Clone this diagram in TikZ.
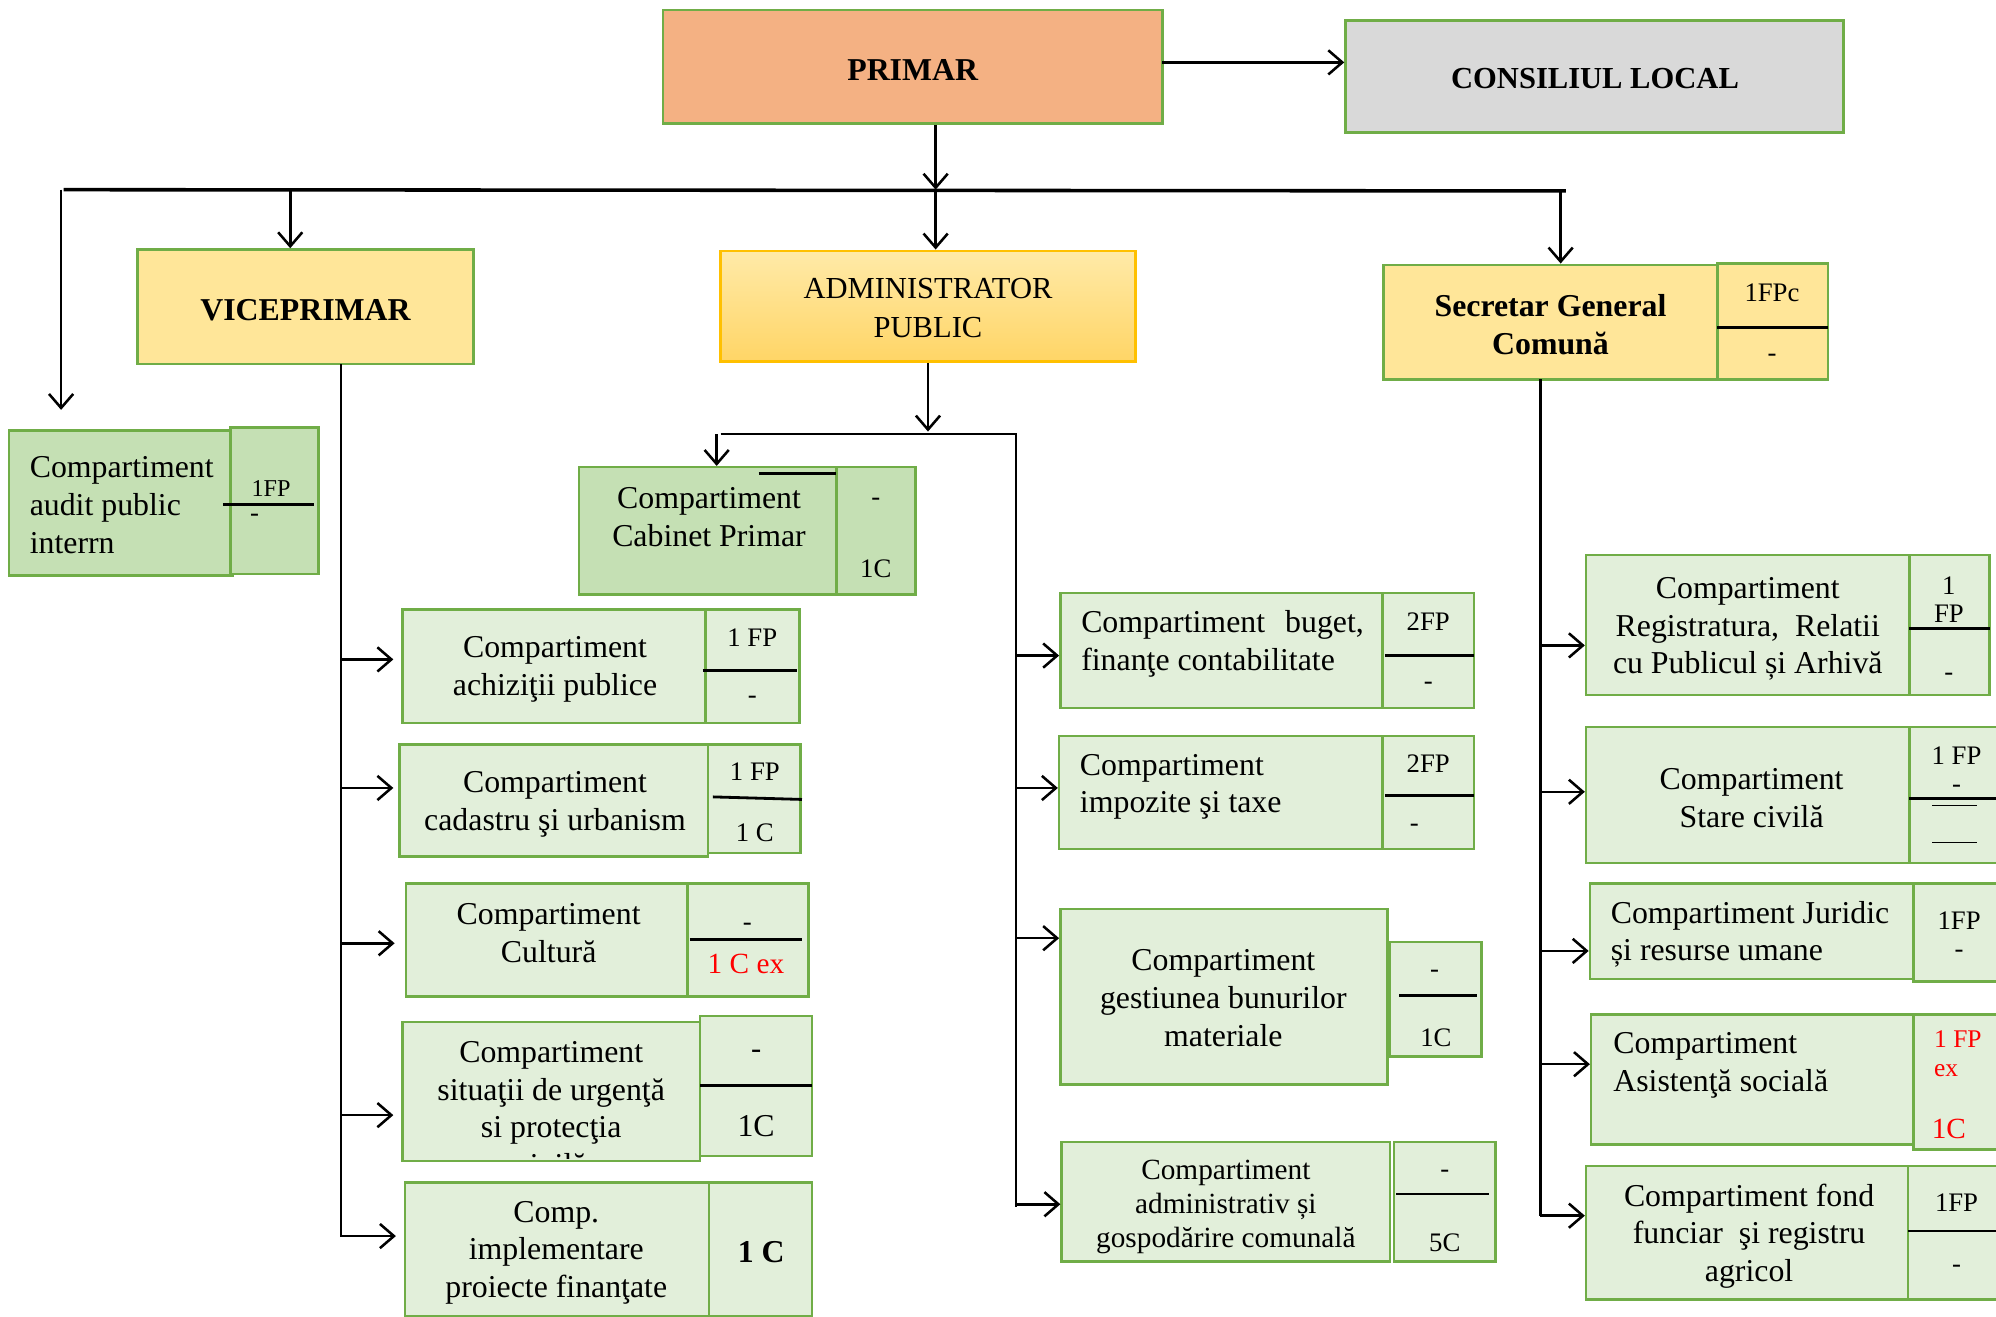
\documentclass[tikz,border=0pt]{standalone}
\usepackage{fontspec}
\setmainfont{Liberation Serif}
\usetikzlibrary{arrows.meta,fit}
\definecolor{bgreen}{HTML}{70AD47}
\definecolor{lgreen}{HTML}{E2EFDA}
\definecolor{mgreen}{HTML}{C5E0B4}
\definecolor{lyellow}{HTML}{FFE699}
\definecolor{orng}{HTML}{F4B183}
\definecolor{lgrey}{HTML}{D9D9D9}
\definecolor{goldb}{HTML}{FFC000}
\definecolor{admtop}{HTML}{FFEAA8}
\definecolor{admbot}{HTML}{FFD566}
\definecolor{redt}{HTML}{FF0000}
\newcommand\mybox[6]{\node[#1,fit={(#2,#3)(#4,#5)},inner sep=0pt] (#6) {};}
\begin{document}
\begin{tikzpicture}[x=0.5pt,y=-0.5pt,
  bx/.style={draw=bgreen,line width=1pt,fill=lgreen},
  bxm/.style={bx,fill=mgreen},
  bxy/.style={bx,fill=lyellow},
  txt/.style={font=\fontsize{12.5}{14.8}\selectfont,align=center,inner sep=0pt},
  txl/.style={txt,align=left,anchor=west},
  tb/.style={font=\bfseries\fontsize{12.5}{14.8}\selectfont,align=center,inner sep=0pt},
  num/.style={font=\fontsize{10.5}{12}\selectfont,inner sep=0pt},
  numb/.style={font=\fontsize{12}{14}\selectfont,inner sep=0pt},
  red/.style={text=redt},
  div/.style={line width=1.1pt},
  arr/.style={-{Straight Barb[length=5.5pt,width=9.5pt]},line width=1pt},
  ln/.style={line width=1pt},
  bus/.style={line width=1.4pt}]
\useasboundingbox[fill=white] (0,0) rectangle (1568,1034);

% ---------- top level ----------
\mybox{bx,fill=orng}{521}{8}{913}{97}{primar}
\node[tb] (primar-t) at (717,55) {PRIMAR};
\mybox{bx,fill=lgrey}{1057}{16}{1448}{104}{cons}
\node[tb,font=\bfseries\fontsize{12}{14}\selectfont] (cons-t) at (1253,62) {CONSILIUL LOCAL};

\mybox{bxy}{108}{196}{372}{286}{vice}
\node[tb] (vice-t) at (240,244) {VICEPRIMAR};

\mybox{bx,draw=goldb,top color=admtop,bottom color=admbot}{566}{197}{892}{284}{admin}
\node[txt,font=\fontsize{12}{15.5}\selectfont] (admin-t) at (729,242) {ADMINISTRATOR\\PUBLIC};

\mybox{bxy}{1087}{208}{1349}{298}{sec}
\mybox{bxy}{1349}{207}{1436}{298}{secs}
\draw[div] (1349,257) -- (1436,257);
\node[tb] (sec-t) at (1218,255) {Secretar General\\Comună};
\node[num] (secs-a) at (1392,230) {1FPc};
\node[num] (secs-b) at (1392,281) {-};

% ---------- audit ----------
\mybox{bxm}{7}{338}{183}{452}{audit}
\mybox{bxm}{181}{336}{250}{451}{audits}
\draw[div] (175,396) -- (247,396);
\node[txl,font=\fontsize{12.5}{15}\selectfont] (audit-t) at (23,397) {Compartiment\\audit public\\interrn};
\node[num,font=\fontsize{9.5}{11}\selectfont] (audits-a) at (213,384) {1FP};
\node[num] (audits-b) at (200,407) {-};

% ---------- cabinet ----------
\mybox{bxm}{455}{367}{657}{467}{cab}
\mybox{bxm}{657}{367}{719}{467}{cabs}
\draw[div] (596,372) -- (657,372);
\node[txt] (cab-t) at (557,406) {Compartiment\\Cabinet Primar};
\node[num] (cabs-a) at (688,394) {-};
\node[num] (cabs-b) at (688,447) {1C};

% ---------- vice column ----------
\mybox{bx}{316}{479}{554}{568}{achiz}
\mybox{bx}{554}{479}{628}{568}{achizs}
\draw[div] (552,527) -- (626,527);
\node[txt] (achiz-t) at (436,526) {Compartiment\\achiziţii publice};
\node[num] (achizs-a) at (591,501) {1 FP};
\node[num] (achizs-b) at (591,550) {-};

\mybox{bx}{314}{585}{556}{673}{cad}
\mybox{bx}{556}{585}{629}{670}{cads}
\draw[div] (560,626) -- (630,628);
\node[txt] (cad-t) at (436,632) {Compartiment\\cadastru şi urbanism};
\node[num] (cads-a) at (593,606) {1 FP};
\node[num] (cads-b) at (593,654) {1 C};

\mybox{bx}{319}{694}{540}{783}{cult}
\mybox{bx}{540}{694}{635}{783}{cults}
\draw[div] (542,738) -- (630,738);
\node[txt] (cult-t) at (431,733) {Compartiment\\Cultură};
\node[num] (cults-a) at (587,728) {-};
\node[num,red,font=\fontsize{11.5}{13}\selectfont] (cults-b) at (586,757) {1 C ex};

\mybox{bx}{316}{803}{550}{912}{sit}
\mybox{bx}{550}{798}{638}{908}{sits}
\draw[div] (550,853) -- (638,853);
\begin{scope}
\clip (316,803) rectangle (550,910);
\node[txt] (sit-t) at (433,871) {Compartiment\\situaţii de urgenţă\\si protecţia\\civilă};
\end{scope}
\node[numb] (sits-a) at (594,828) {-};
\node[numb,font=\fontsize{12.5}{14}\selectfont] (sits-b) at (594,885) {1C};

\mybox{bx}{318}{929}{557}{1034}{impl}
\mybox{bx}{557}{929}{638}{1034}{impls}
\node[txt] (impl-t) at (437,984) {Comp.\\implementare\\proiecte finanţate};
\node[tb] (impls-a) at (598,984) {1 C};

% ---------- admin column ----------
\mybox{bx}{833}{466}{1086}{556}{buget}
\mybox{bx}{1086}{466}{1158}{556}{bugets}
\draw[div] (1088,515) -- (1158,515);
\node[txl,text width=111pt,align=justify] (buget-t) at (849,506) {Compartiment\ \ buget, finanţe contabilitate};
\node[num] (bugets-a) at (1122,488) {2FP};
\node[num] (bugets-b) at (1122,539) {-};

\mybox{bx}{832}{578}{1086}{667}{impoz}
\mybox{bx}{1086}{578}{1158}{667}{impozs}
\draw[div] (1088,625) -- (1158,625);
\node[txl] (impoz-t) at (848,618) {Compartiment\\impozite şi taxe};
\node[num] (impozs-a) at (1122,600) {2FP};
\node[num] (impozs-b) at (1111,650) {-};

\mybox{bx}{833}{714}{1090}{852}{gest}
\mybox{bx}{1092}{740}{1164}{830}{gests}
\draw[div] (1099,782) -- (1160,782);
\node[txt] (gest-t) at (961,784) {Compartiment\\gestiunea bunurilor\\materiale};
\node[num] (gests-a) at (1127,765) {-};
\node[num] (gests-b) at (1128,815) {1C};

\mybox{bx}{834}{897}{1092}{991}{gosp}
\mybox{bx}{1095}{897}{1175}{991}{gosps}
\draw[div] (1097,938) -- (1170,938);
\node[txt,font=\fontsize{11.5}{13.3}\selectfont] (gosp-t) at (963,948) {Compartiment\\administrativ și\\gospodărire comunală};
\node[num] (gosps-a) at (1135,922) {-};
\node[num] (gosps-b) at (1135,976) {5C};

% ---------- secretar column ----------
\mybox{bx}{1246}{436}{1500}{546}{reg}
\mybox{bx}{1500}{436}{1563}{546}{regs}
\draw[div] (1500,494) -- (1563,494);
\node[txt] (reg-t) at (1373,494) {Compartiment\\Registratura,\ \ Relatii\\cu Publicul și Arhivă};
\node[num,align=center,font=\fontsize{10.5}{11}\selectfont] (regs-a) at (1531,471) {1\\FP};
\node[num] (regs-b) at (1531,532) {-};

\mybox{bx}{1246}{571}{1500}{678}{stare}
\mybox{bx}{1500}{571}{1580}{678}{stares}
\draw[div] (1500,627) -- (1568,627);
\draw[line width=0.4pt] (1518,633) -- (1553,633) (1518,662) -- (1553,662);
\node[txt] (stare-t) at (1376,627) {Compartiment\\Stare civilă};
\node[num] (stares-a) at (1537,594) {1 FP};
\node[num] (stares-b) at (1537,620) {-};

\mybox{bx}{1249}{694}{1503}{769}{jur}
\mybox{bx}{1503}{694}{1580}{771}{jurs}
\node[txl] (jur-t) at (1265,734) {Compartiment Juridic\\și resurse umane};
\node[num] (jurs-a) at (1539,723) {1FP};
\node[num] (jurs-b) at (1539,749) {-};

\mybox{bx}{1250}{797}{1503}{899}{asis}
\mybox{bx}{1503}{797}{1580}{903}{asiss}
\node[txl] (asis-t) at (1267,837) {Compartiment\\Asistenţă socială};
\node[num,red,align=left,anchor=west,font=\fontsize{10}{11.5}\selectfont] (asiss-a) at (1519,828) {1 FP\\ex};
\node[num,red,font=\fontsize{11.5}{13}\selectfont] (asiss-b) at (1531,887) {1C};

\mybox{bx}{1246}{916}{1499}{1021}{fond}
\mybox{bx}{1499}{916}{1580}{1021}{fonds}
\draw[div] (1499,967) -- (1568,967);
\node[txt] (fond-t) at (1374,971) {Compartiment fond\\funciar\ \ şi registru\\agricol};
\node[num] (fonds-a) at (1537,945) {1FP};
\node[num] (fonds-b) at (1537,997) {-};

% ---------- connectors ----------
\coordinate (pc) at (913,49);
\draw[arr] (pc) -- (pc -| cons.west);
\coordinate (busL) at (50,149);
\coordinate (busR) at (1230,150);
\coordinate (busC) at (735,149);
\coordinate (busV) at (228,149);
\coordinate (busS) at (1226,149);
\coordinate (busA) at (48,149);
\coordinate (auditEnd) at (48,322);
\draw[bus] (busL) -- (busR);
\draw[arr] (busC |- primar.south) -- (busC);
\draw[arr] (busA) -- (auditEnd);
\draw[arr] (busV) -- (busV |- vice.north);
\draw[arr] (busC) -- (busC |- admin.north);
\draw[arr] (busS) -- (busS |- sec.north);

% vice trunk
\coordinate (vtop) at (268,286);
\coordinate (vbot) at (268,972);
\draw[ln] (vtop) -- (vbot);
\coordinate (v1) at (268,518);
\coordinate (v2) at (268,619);
\coordinate (v3) at (268,741);
\coordinate (v4) at (268,876);
\coordinate (v5) at (268,971);
\draw[arr,shorten >=3pt] (v1) -- (v1 -| achiz.west);
\draw[arr,shorten >=2pt] (v2) -- (v2 -| cad.west);
\draw[arr,shorten >=4pt] (v3) -- (v3 -| cult.west);
\draw[arr,shorten >=3pt] (v4) -- (v4 -| sit.west);
\draw[arr,shorten >=3pt] (v5) -- (v5 -| impl.west);

% admin trunk
\coordinate (abus) at (729,339);
\coordinate (abL) at (566,341);
\coordinate (abR) at (798,341);
\coordinate (abCab) at (563,341);
\coordinate (abBot) at (798,948);
\draw[arr] (admin.south) -- (abus);
\draw[ln] (abL) -- (abR) -- (abBot);
\draw[arr] (abCab) -- (abCab |- cab.north);
\coordinate (a1) at (798,515);
\coordinate (a2) at (798,619);
\coordinate (a3) at (798,737);
\coordinate (a4) at (798,946);
\draw[arr] (a1) -- (a1 -| buget.west);
\draw[arr] (a2) -- (a2 -| impoz.west);
\draw[arr] (a3) -- (a3 -| gest.west);
\draw[arr] (a4) -- (a4 -| gosp.west);

% secretar trunk
\coordinate (stop) at (1210,298);
\coordinate (sbot) at (1210,955);
\draw[ln] (stop) -- (sbot);
\coordinate (s1) at (1210,507);
\coordinate (s2) at (1210,622);
\coordinate (s3) at (1210,747);
\coordinate (s4) at (1210,836);
\coordinate (s5) at (1210,955);
\draw[arr] (s1) -- (s1 -| reg.west);
\draw[arr] (s2) -- (s2 -| stare.west);
\draw[arr] (s3) -- (s3 -| jur.west);
\draw[arr] (s4) -- (s4 -| asis.west);
\draw[arr] (s5) -- (s5 -| fond.west);
\end{tikzpicture}
\end{document}
